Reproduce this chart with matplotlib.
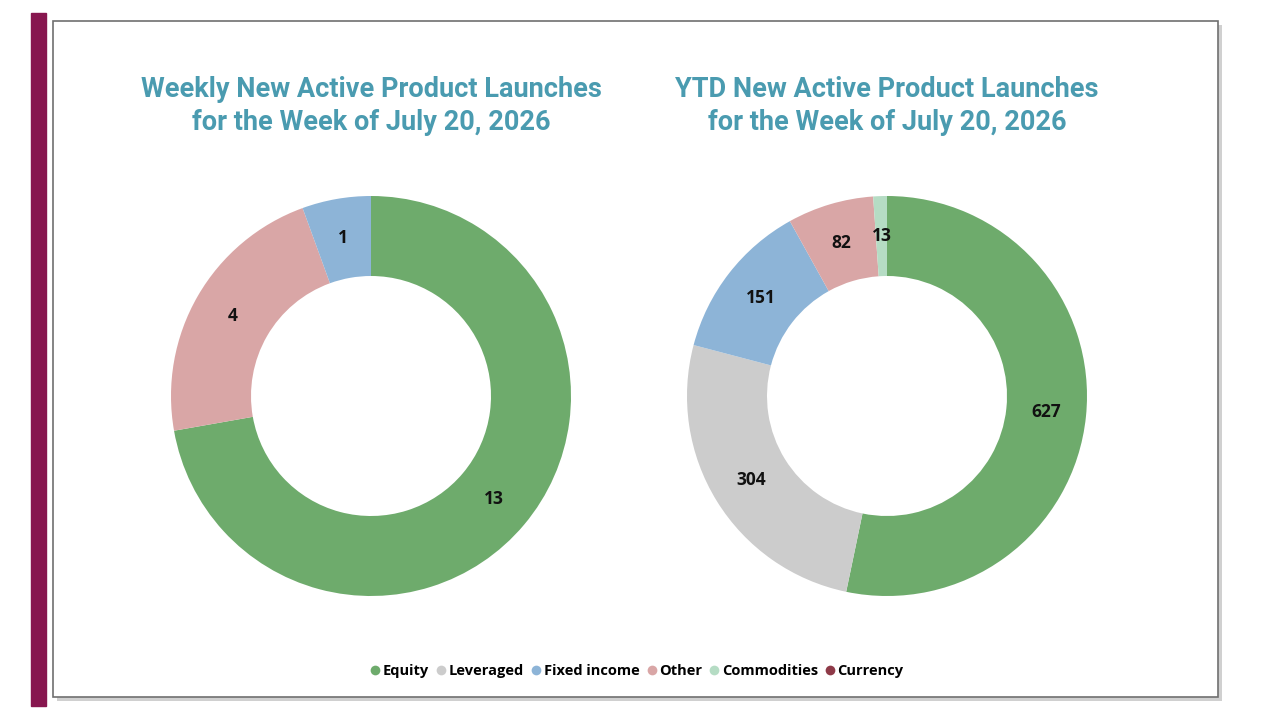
import numpy as np
import matplotlib.pyplot as plt
from matplotlib.patches import Rectangle
from matplotlib.lines import Line2D

# Данные
categories = ['Equity', 'Leveraged', 'Fixed income', 'Other', 'Commodities', 'Currency']
colors = ['#6eab6c', '#cccccc', '#8db4d7', '#d9a6a6', '#b5dcc4', '#8e3a48']
weekly_values = [13, 0, 1, 4, 0, 0]
ytd_values = [627, 304, 151, 82, 13, 0]

title_weekly = 'Weekly New Active Product Launches\nfor the Week of July 20, 2026'
title_ytd = 'YTD New Active Product Launches\nfor the Week of July 20, 2026'

W, H = 1280, 720
fig = plt.figure(figsize=(12.8, 7.2), dpi=100)
fig.patch.set_facecolor('white')

# Бордовая полоса слева
fig.patches.append(Rectangle((31 / W, 1 - 706 / H), 15 / W, 693 / H,
                             transform=fig.transFigure, color='#87164f', zorder=-2))
# Рамка с тенью
fig.patches.append(Rectangle((57 / W, 1 - 701 / H), 1165 / W, 676 / H,
                             transform=fig.transFigure, facecolor='#d0d0d0',
                             edgecolor='none', zorder=-2))
fig.patches.append(Rectangle((53 / W, 1 - 697 / H), 1165 / W, 676 / H,
                             transform=fig.transFigure, facecolor='white',
                             edgecolor='#707070', linewidth=1.2, zorder=-1))


def donut(cx, cy, values, title):
    r = 200
    ax = fig.add_axes([(cx - r) / W, 1 - (cy + r) / H, 2 * r / W, 2 * r / H])
    ax.set_zorder(1)
    ax.patch.set_alpha(0)
    pairs = [(v, col) for v, col in zip(values, colors) if v > 0]
    pairs.sort(key=lambda p: -p[0])
    vals = [p[0] for p in pairs]
    cols = [p[1] for p in pairs]
    ax.pie(vals, colors=cols, startangle=90, counterclock=False,
           radius=1, wedgeprops=dict(width=0.4, linewidth=0))
    total = sum(vals)
    ang = 90.0
    for v in vals:
        mid = ang - 360.0 * v / total / 2
        ang -= 360.0 * v / total
        ax.text(0.8 * np.cos(np.radians(mid)), 0.8 * np.sin(np.radians(mid)), str(v),
                ha='center', va='center', fontsize=12.5, fontweight='bold',
                family='Open Sans', color='#111111')
    ax.set_xlim(-1, 1)
    ax.set_ylim(-1, 1)
    ax.set_aspect('equal')
    ax.axis('off')
    fig.text(cx / W, 1 - 106 / H, title, ha='center', va='center', fontsize=19.5,
             fontweight='bold', color='#4a9bb0', family='Roboto', linespacing=1.27)


donut(371, 396, weekly_values, title_weekly)
donut(887, 396, ytd_values, title_ytd)

handles = [Line2D([], [], marker='o', linestyle='none', markersize=7,
                  markerfacecolor=c, markeredgecolor='none') for c in colors]
fig.legend(handles, categories, loc='center', bbox_to_anchor=(637 / W, 1 - 671 / H),
           ncol=6, frameon=False, handlelength=0.7, handletextpad=0.15,
           columnspacing=0.5, prop=dict(family='Open Sans', weight='bold', size=10.5))

fig.savefig('out.png', dpi=100)
